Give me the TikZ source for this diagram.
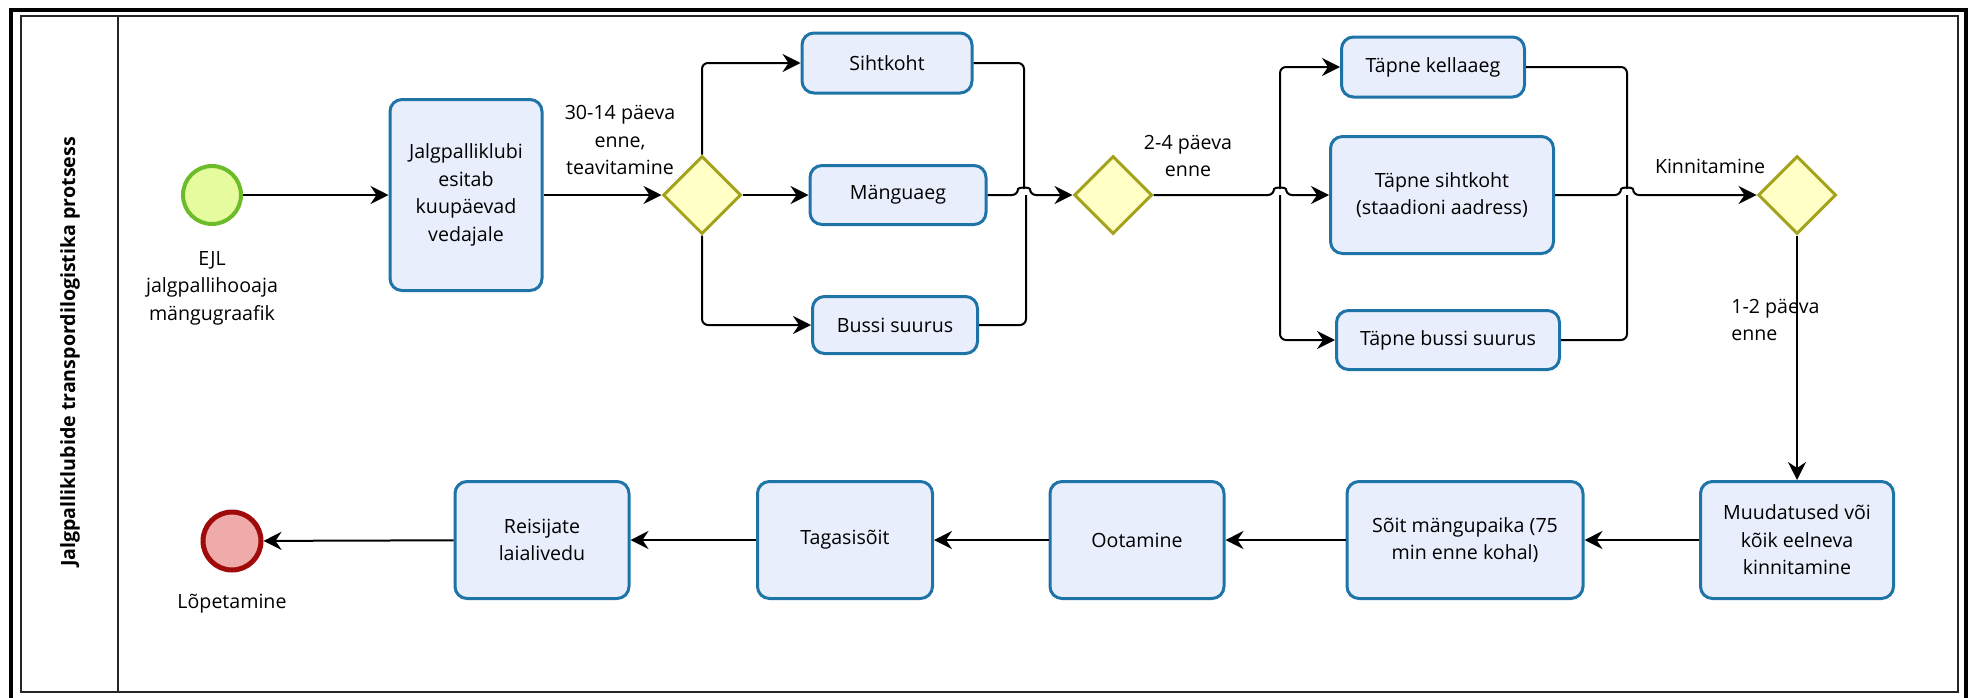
\documentclass[tikz,border=0pt]{standalone}
\usepackage{fontspec}
\setmainfont{Open Sans}
\usetikzlibrary{arrows.meta,shapes.geometric}

\definecolor{taskfill}{HTML}{E9EEFC}
\definecolor{taskline}{HTML}{1E74A6}
\definecolor{gatefill}{HTML}{FFFFC6}
\definecolor{gateline}{HTML}{A3A31E}
\definecolor{startfill}{HTML}{E6FA9E}
\definecolor{startline}{HTML}{6CBC2A}
\definecolor{endfill}{HTML}{EFAAAA}
\definecolor{endline}{HTML}{A00A0A}

\newcommand\lblfont{\fontsize{9.8pt}{13.8pt}\selectfont}

\begin{document}
\begin{tikzpicture}[x=0.5pt,y=-0.5pt,
  task/.style={draw=taskline, fill=taskfill, line width=1.5pt, rounded corners=6pt,
               align=center, inner sep=2pt, font=\lblfont},
  gate/.style={diamond, draw=gateline, fill=gatefill, line width=1.5pt,
               minimum width=39pt, minimum height=39pt, inner sep=0pt},
  flow/.style={line width=1pt, rounded corners=3pt,
               -{Stealth[length=9pt,width=9pt,inset=3pt]}},
  plain/.style={line width=1pt, rounded corners=3pt},
  lbl/.style={align=center, font=\lblfont, inner sep=0pt}
]
\useasboundingbox (0,0) rectangle (1975,697);

% pool frame and lane header
\draw[line width=2.2pt] (11,10) rectangle (1966,710);
\draw[line width=1pt, black!85] (21,16) rectangle (1958,692);
\draw[line width=1pt, black!85] (118,16) -- (118,692);
\node[rotate=90, font=\bfseries\lblfont] (title) at (70,352)
  {Jalgpalliklubide transpordilogistika protsess};

% events
\node[circle, draw=startline, fill=startfill, line width=2pt, minimum size=29pt,
      inner sep=0pt] (start) at (212,195) {};
\node[lbl] (startlbl) at (212,288) {EJL\\jalgpallihooaja\\mängugraafik};
\node[circle, draw=endline, fill=endfill, line width=2.5pt, minimum size=29pt,
      inner sep=0pt] (end) at (232,541) {};
\node[lbl] (endlbl) at (232,604) {Lõpetamine};

% upper row
\node[task, minimum width=76pt, minimum height=95.5pt] (t1) at (466,195)
  {Jalgpalliklubi\\esitab\\kuupäevad\\vedajale};
\node[gate] (g1) at (702,195) {};
\node[task, minimum width=85pt, minimum height=30pt] (sih) at (887,63) {Sihtkoht};
\node[task, minimum width=88pt, minimum height=29.5pt] (mang) at (898,195) {Mänguaeg};
\node[task, minimum width=82.5pt, minimum height=28.5pt] (buss) at (895,325) {Bussi suurus};
\node[gate] (g2) at (1113,195) {};
\node[task, minimum width=91.5pt, minimum height=30pt] (tk) at (1433,67) {Täpne kellaaeg};
\node[task, minimum width=111.5pt, minimum height=58.5pt] (ts) at (1442,195)
  {Täpne sihtkoht\\(staadioni aadress)};
\node[task, minimum width=111.5pt, minimum height=29.5pt] (tb) at (1448,340) {Täpne bussi suurus};
\node[gate] (g3) at (1797,195) {};

% lower row
\node[task, minimum width=96.5pt, minimum height=58.5pt] (mu) at (1797,540)
  {Muudatused või\\kõik eelneva\\kinnitamine};
\node[task, minimum width=118pt, minimum height=58.5pt] (so) at (1465,540)
  {Sõit mängupaika (75\\min enne kohal)};
\node[task, minimum width=87pt, minimum height=58.5pt] (oo) at (1137,540) {Ootamine};
\node[task, minimum width=87.5pt, minimum height=58.5pt] (ta) at (845,540) {Tagasisõit};
\node[task, minimum width=87pt, minimum height=58.5pt] (re) at (542,540)
  {Reisijate\\laialivedu};

% flow labels
\node[lbl] (l1) at (620,140) {30-14 päeva\\enne,\\teavitamine};
\node[lbl] (l2) at (1188,156) {2-4 päeva\\enne};
\node[lbl] (l3) at (1710,166) {Kinnitamine};
\node[lbl, align=left, anchor=west] (l4) at (1731,320) {1-2 päeva\\enne};

% junction points of the line jumps
\coordinate (j1top) at (1024,189);
\coordinate (j1bot) at (1026,195);
\coordinate (s2top) at (1280,189);
\coordinate (s2bot) at (1280,195);
\coordinate (j3top) at (1627,189);
\coordinate (j3bot) at (1627,195);

% sequence flows
\draw[flow] (start) -- (t1);
\draw[flow] (t1) -- (g1);
\draw[flow] (g1.north) |- (sih.west);
\draw[flow] (g1) -- (mang);
\draw[flow] (g1.south) |- (buss.west);

\draw[plain] (sih.east) -| (j1top);
\draw[plain] (buss.east) -| (j1bot);
\draw[flow] (mang.east) -- (1018,195) .. controls (1018,187) and (1030,187) .. (1030,195)
  -- (g2.west);

\draw[flow] (g2.east) -- (1274,195) .. controls (1274,187) and (1286,187) .. (1286,195)
  -- (ts.west);
\draw[flow] (s2top) |- (tk.west);
\draw[flow] (s2bot) |- (tb.west);

\draw[plain] (tk.east) -| (j3top);
\draw[plain] (tb.east) -| (j3bot);
\draw[flow] (ts.east) -- (1621,195) .. controls (1621,187) and (1633,187) .. (1633,195)
  -- (g3.west);

\draw[flow] (g3.south) -- (mu.north);
\draw[flow] (mu) -- (so);
\draw[flow] (so) -- (oo);
\draw[flow] (oo) -- (ta);
\draw[flow] (ta) -- (re);
\draw[flow] (re) -- (end);
\end{tikzpicture}
\end{document}
